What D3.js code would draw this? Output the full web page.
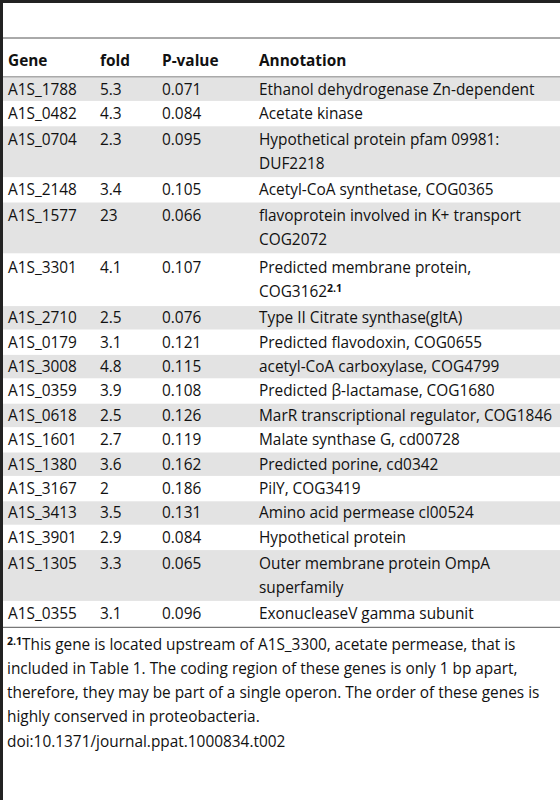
<!DOCTYPE html>
<html><head><meta charset="utf-8">
<script src="https://cdn.jsdelivr.net/npm/d3@7"></script>
<style>body{margin:0;background:#fff}svg{display:block}</style>
</head><body>
<svg id="c" width="560" height="800"></svg>
<script>
const headers = ["Gene","fold","P-value","Annotation"];
const genes = ["A1S_1788","A1S_0482","A1S_0704","A1S_2148","A1S_1577","A1S_3301","A1S_2710","A1S_0179","A1S_3008","A1S_0359","A1S_0618","A1S_1601","A1S_1380","A1S_3167","A1S_3413","A1S_3901","A1S_1305","A1S_0355"];
const folds = ["5.3","4.3","2.3","3.4","23","4.1","2.5","3.1","4.8","3.9","2.5","2.7","3.6","2","3.5","2.9","3.3","3.1"];
const pvalues = ["0.071","0.084","0.095","0.105","0.066","0.107","0.076","0.121","0.115","0.108","0.126","0.119","0.162","0.186","0.131","0.084","0.065","0.096"];
const annotations = [
 ["Ethanol dehydrogenase Zn-dependent"],["Acetate kinase"],["Hypothetical protein pfam 09981:","DUF2218"],
 ["Acetyl-CoA synthetase, COG0365"],["flavoprotein involved in K+ transport","COG2072"],["Predicted membrane protein,","COG3162|2.1"],
 ["Type II Citrate synthase(gltA)"],["Predicted flavodoxin, COG0655"],["acetyl-CoA carboxylase, COG4799"],
 ["Predicted β-lactamase, COG1680"],["MarR transcriptional regulator, COG1846"],["Malate synthase G, cd00728"],
 ["Predicted porine, cd0342"],["PilY, COG3419"],["Amino acid permease cl00524"],["Hypothetical protein"],
 ["Outer membrane protein OmpA","superfamily"],["ExonucleaseV gamma subunit"]];
const footnote = ["|2.1|This gene is located upstream of A1S_3300, acetate permease, that is","included in Table 1. The coding region of these genes is only 1 bp apart,","therefore, they may be part of a single operon. The order of these genes is","highly conserved in proteobacteria.","doi:10.1371/journal.ppat.1000834.t002"];

const svg = d3.select("#c");
const font = "'Open Sans', sans-serif";
const fs = 15.4;
const colX = d3.scaleOrdinal().domain([0,1,2,3]).range([8,100,162,259]);
const lineH = 24.4;
let y = 77; const rows = [];
genes.forEach((g,i)=>{const n=annotations[i].length;const h=n>1?n*lineH+3:lineH;rows.push({i,y0:y,h,n});y+=h;});
const tableEnd = y;

svg.append("rect").attr("x",0).attr("y",0).attr("width",560).attr("height",3).attr("fill","#222");
svg.append("rect").attr("x",0).attr("y",0).attr("width",3).attr("height",800).attr("fill","#222");
svg.append("line").attr("x1",3).attr("x2",560).attr("y1",38).attr("y2",38).attr("stroke","#555").attr("stroke-width",1);
svg.append("line").attr("x1",3).attr("x2",560).attr("y1",77).attr("y2",77).attr("stroke","#555").attr("stroke-width",1);

svg.selectAll("text.h").data(headers).join("text").attr("class","h")
 .attr("x",(d,i)=>colX(i)).attr("y",66).attr("font-family",font).attr("font-weight","bold").attr("font-size",fs).attr("fill","#111").text(d=>d);

svg.selectAll("rect.bg").data(rows.filter(r=>r.i%2===0)).join("rect").attr("class","bg")
 .attr("x",3).attr("y",d=>d.y0+0.5).attr("width",557).attr("height",d=>d.h-1).attr("fill","#e3e3e3");

const g = svg.append("g").attr("font-family",font).attr("font-size",fs).attr("fill","#111");
rows.forEach(r=>{
  const base = r.y0 + 17.5 + (r.n>1?1.5:0);
  [genes[r.i],folds[r.i],pvalues[r.i]].forEach((t,c)=>g.append("text").attr("x",colX(c)).attr("y",base).text(t));
  annotations[r.i].forEach((ln,k)=>{
    const t=g.append("text").attr("x",colX(3)).attr("y",base+k*lineH);
    const parts=ln.split("|");
    t.append("tspan").text(parts[0]);
    if(parts[1]) t.append("tspan").attr("dy",-5).attr("font-size",10.5).attr("font-weight","bold").text(parts[1]);
  });
});
svg.append("line").attr("x1",3).attr("x2",560).attr("y1",tableEnd+1.5).attr("y2",tableEnd+1.5).attr("stroke","#555").attr("stroke-width",1);

const f = svg.append("g").attr("font-family",font).attr("font-size",fs).attr("fill","#111");
footnote.forEach((ln,k)=>{
  const t=f.append("text").attr("x",7).attr("y",tableEnd+24+k*24.2);
  const parts=ln.split("|");
  if(parts.length>1){t.append("tspan").attr("font-size",10.5).attr("font-weight","bold").attr("dy",-5).text(parts[1]);t.append("tspan").attr("dy",5).text(parts[2]);}
  else t.text(ln);
});
</script>
</body></html>
